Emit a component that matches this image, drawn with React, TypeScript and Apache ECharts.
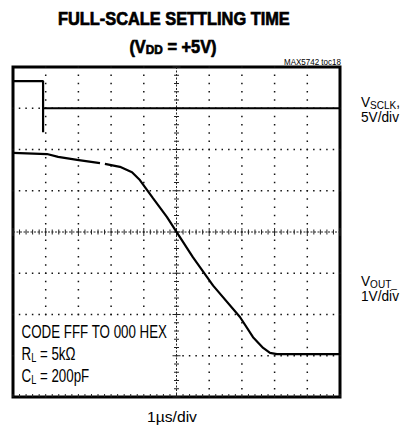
import React, { useEffect, useRef } from "react";
import * as echarts from "echarts";

// ---- graticule (scope divisions) ----
const X_DIVS = 10;
const Y_DIVS = 8;
const MINOR = 5;

// ---- traces, in divisions (x: 1µs/div, y: screen divisions from bottom) ----
const sclkTrace: any[] = [
  [0, 7.66],
  [0.92, 7.66],
  [0.92, 6.42],
  [0.92, 7.0],
  [10, 7.0],
];

const voutTrace: any[] = [
  [0, 5.92],
  [1.04, 5.89],
  [1.38, 5.82],
  [1.96, 5.75],
  [2.66, 5.67],
  [2.73, "-"],
  [2.81, 5.65],
  [3.27, 5.58],
  [3.64, 5.45],
  [3.88, 5.26],
  [4.28, 4.82],
  [4.71, 4.36],
  [5.02, 3.98],
  [5.5, 3.39],
  [6.12, 2.7],
  [6.94, 1.94],
  [7.34, 1.45],
  [7.65, 1.19],
  [7.86, 1.07],
  [8.07, 1.04],
  [10, 1.04],
];

// ---- texts ----
const TITLE_1 = "FULL-SCALE SETTLING TIME";
const TITLE_2 = ["(V", "DD", " = +5V)"];
const FIG_ID = "MAX5742 toc18";
const SCLK_LABEL = ["V", "SCLK", ","];
const SCLK_SCALE = "5V/div";
const VOUT_LABEL = ["V", "OUT_"];
const VOUT_SCALE = "1V/div";
const NOTE_1 = "CODE FFF TO 000 HEX";
const NOTE_2 = ["R", "L", " = 5kΩ"];
const NOTE_3 = ["C", "L", " = 200pF"];
const X_SCALE = "1µs/div";

const FONT = '"Liberation Sans", Arial, Helvetica, sans-serif';

let ctx: CanvasRenderingContext2D | null = null;
function measure(text: string, size: number, weight: string) {
  if (!ctx) ctx = document.createElement("canvas").getContext("2d");
  ctx!.font = `${weight} ${size}px ${FONT}`;
  return ctx!.measureText(text).width;
}

type Run = { t: string; size: number; dy?: number };

function line(
  runs: Run[],
  x: number,
  y: number,
  align: "left" | "center" | "right",
  sx: number,
  weight = "normal",
  stroke = 0
) {
  const widths = runs.map((r) => measure(r.t, r.size, weight) * sx);
  const total = widths.reduce((a, b) => a + b, 0);
  let cx = align === "left" ? x : align === "center" ? x - total / 2 : x - total;
  return runs.map((r, i) => {
    const el = {
      type: "text",
      x: cx,
      y: y + (r.dy || 0),
      scaleX: sx,
      silent: true,
      z: 20,
      style: {
        text: r.t,
        font: `${weight} ${r.size}px ${FONT}`,
        fill: "#000",
        stroke: stroke ? "#000" : undefined,
        lineWidth: stroke,
        textAlign: "left",
        textVerticalAlign: "middle",
        verticalAlign: "middle",
      },
    };
    cx += widths[i];
    return el;
  });
}

function fit(text: string, size: number, target: number, weight = "normal") {
  return target / measure(text, size, weight);
}

export default function App() {
  const ref = useRef<HTMLDivElement>(null);

  useEffect(() => {
    if (!ref.current) return;
    const chart = echarts.init(ref.current, undefined, { renderer: "svg" });

    const sxTitle = fit(TITLE_1, 18, 232, "bold");
    const sxBody = fit(NOTE_1, 17.5, 146);
    const sxRight = fit(SCLK_SCALE, 15, 38);
    const sxX = fit(X_SCALE, 15, 50);
    const sxId = fit(FIG_ID, 9, 57);

    const graphics: any[] = [
      {
        type: "rect",
        silent: true,
        z: 15,
        shape: { x: 16, y: 320, width: 156, height: 73 },
        style: { fill: "#fff" },
      },
      ...line([{ t: TITLE_1, size: 18 }], 174, 18.5, "center", sxTitle, "bold", 0.7),
      ...line(
        [
          { t: TITLE_2[0], size: 18 },
          { t: TITLE_2[1], size: 13, dy: 3.5 },
          { t: TITLE_2[2], size: 18 },
        ],
        173,
        46.5,
        "center",
        sxTitle,
        "bold",
        0.7
      ),
      ...line([{ t: FIG_ID, size: 9 }], 341, 62, "right", sxId),
      ...line(
        [
          { t: SCLK_LABEL[0], size: 15 },
          { t: SCLK_LABEL[1], size: 11, dy: 3.5 },
          { t: SCLK_LABEL[2], size: 15 },
        ],
        361,
        101.5,
        "left",
        sxRight
      ),
      ...line([{ t: SCLK_SCALE, size: 15 }], 361, 116.5, "left", sxRight),
      ...line(
        [
          { t: VOUT_LABEL[0], size: 15 },
          { t: VOUT_LABEL[1], size: 11, dy: 3.5 },
        ],
        361,
        280.5,
        "left",
        sxRight
      ),
      ...line([{ t: VOUT_SCALE, size: 15 }], 361, 295.5, "left", sxRight),
      ...line([{ t: NOTE_1, size: 17.5 }], 21.5, 331.5, "left", sxBody),
      ...line(
        [
          { t: NOTE_2[0], size: 17.5 },
          { t: NOTE_2[1], size: 12, dy: 4 },
          { t: NOTE_2[2], size: 17.5 },
        ],
        21.5,
        354,
        "left",
        sxBody
      ),
      ...line(
        [
          { t: NOTE_3[0], size: 17.5 },
          { t: NOTE_3[1], size: 12, dy: 4 },
          { t: NOTE_3[2], size: 17.5 },
        ],
        21.5,
        376,
        "left",
        sxBody
      ),
      ...line([{ t: X_SCALE, size: 15 }], 172, 417, "center", sxX),
    ];

    const graticule = (params: any, api: any) => {
      const children: any[] = [];
      const dot = (x: number, y: number) => {
        const [px, py] = api.coord([x, y]);
        children.push({
          type: "rect",
          shape: { x: px - 0.75, y: py - 0.75, width: 1.5, height: 1.5 },
          style: { fill: "#111" },
        });
      };
      for (let j = 1; j < Y_DIVS; j++) {
        if (j === Y_DIVS / 2) continue;
        for (let i = 0; i <= X_DIVS * MINOR; i++) dot(i / MINOR, j);
      }
      for (let i = 1; i < X_DIVS; i++) {
        if (i === X_DIVS / 2) continue;
        for (let j = 0; j <= Y_DIVS * MINOR; j++) dot(i, j / MINOR);
      }
      const cxm = X_DIVS / 2;
      const cym = Y_DIVS / 2;
      const [l, c] = api.coord([0, cym]);
      const [r] = api.coord([X_DIVS, cym]);
      const [cx, top] = api.coord([cxm, Y_DIVS]);
      const [, bot] = api.coord([cxm, 0]);
      children.push({
        type: "line",
        shape: { x1: l, y1: c, x2: r, y2: c },
        style: { stroke: "#222", lineWidth: 1, lineDash: [2, 1.5] },
      });
      children.push({
        type: "line",
        shape: { x1: cx, y1: top, x2: cx, y2: bot },
        style: { stroke: "#222", lineWidth: 1, lineDash: [2, 1.5] },
      });
      for (let i = 0; i <= X_DIVS * MINOR; i++) {
        const [px, py] = api.coord([i / MINOR, cym]);
        const len = i % MINOR === 0 ? 4 : 2.5;
        children.push({
          type: "line",
          shape: { x1: px, y1: py - len, x2: px, y2: py + len },
          style: { stroke: "#222", lineWidth: 1 },
        });
        const [bx, by] = api.coord([i / MINOR, 0]);
        children.push({
          type: "line",
          shape: { x1: bx, y1: by, x2: bx, y2: by - 3 },
          style: { stroke: "#222", lineWidth: 1 },
        });
      }
      for (let j = 0; j <= Y_DIVS * MINOR; j++) {
        const [px, py] = api.coord([cxm, j / MINOR]);
        const len = j % MINOR === 0 ? 4 : 2.5;
        children.push({
          type: "line",
          shape: { x1: px - len, y1: py, x2: px + len, y2: py },
          style: { stroke: "#222", lineWidth: 1 },
        });
      }
      return { type: "group", children };
    };

    chart.setOption({
      animation: false,
      backgroundColor: "#fff",
      grid: {
        left: 13,
        right: 62,
        top: 67,
        bottom: 33,
        show: true,
        borderColor: "#000",
        borderWidth: 3,
        backgroundColor: "transparent",
      },
      xAxis: {
        type: "value",
        min: 0,
        max: X_DIVS,
        show: false,
      },
      yAxis: {
        type: "value",
        min: 0,
        max: Y_DIVS,
        show: false,
      },
      graphic: graphics,
      series: [
        {
          type: "custom",
          silent: true,
          renderItem: graticule,
          data: [[0, 0]],
          z: 1,
        },
        {
          name: "VSCLK",
          type: "line",
          data: sclkTrace,
          symbol: "none",
          lineStyle: { color: "#000", width: 2.2 },
          z: 3,
        },
        {
          name: "VOUT",
          type: "line",
          data: voutTrace,
          symbol: "none",
          connectNulls: false,
          lineStyle: { color: "#000", width: 2.2 },
          z: 3,
        },
      ],
    });

    return () => chart.dispose();
  }, []);

  return (
    <div
      ref={ref}
      style={{ position: "fixed", left: 0, top: 0, width: 402, height: 430 }}
    />
  );
}
